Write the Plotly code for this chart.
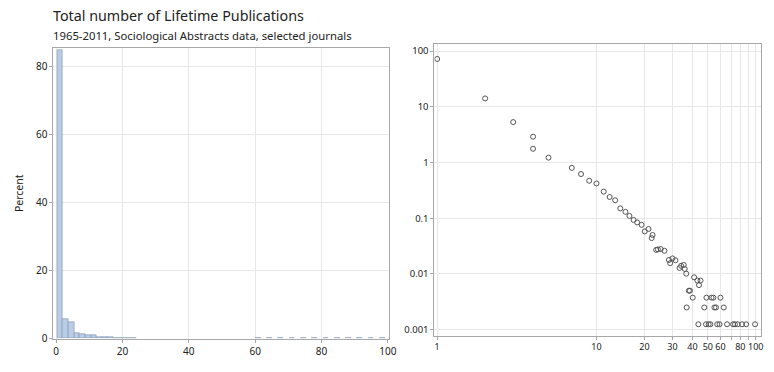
import plotly.graph_objects as go

# ---- Histogram: share of authors by lifetime publication count ----
hist_mid = [1.15, 2.85, 4.55, 6.25, 7.95, 9.65, 11.35, 13.05, 14.75, 16.45,
            18.15, 19.85, 21.55, 23.25,
            60.9, 64.3, 67.7, 71.1, 74.5, 77.9, 81.3, 84.7, 88.1, 91.5, 94.9, 98.3]
hist_pct = [85.0, 5.6, 4.8, 1.5, 1.4, 1.0, 1.1, 0.4, 0.35, 0.3,
            0.25, 0.2, 0.2, 0.15,
            0.03, 0.03, 0.03, 0.03, 0.03, 0.03, 0.03, 0.03, 0.03, 0.03, 0.03, 0.03]
hist_width = 1.7

# ---- Log-log frequency plot: publications vs percent of authors ----
pubs = [1, 2, 3, 4, 4, 5, 7, 8, 9, 10,
        11.1, 12.1, 13.1, 14.1, 15.2, 16.1, 17.1, 18.0, 19.2, 20.1,
        21.2, 22.5, 22.2, 23.7, 24.3, 25.3, 26.7, 28.5, 29.0, 30.0,
        31.3, 33.2, 34.0, 35.3, 35.8, 36.6, 41.0, 43.0, 45.0, 44.0,
        38.0, 38.6, 40.2, 36.8, 49.0, 52.7, 54.2, 60.0, 47.5, 55.0,
        56.3, 63.0, 43.6, 48.7, 50.6, 51.9, 57.3, 59.2, 66.0, 72.0,
        74.0, 77.0, 82.0, 87.0, 99.0]
pct = [72.0, 14.1, 5.3, 2.9, 1.76, 1.22, 0.80, 0.62, 0.47, 0.42,
       0.30, 0.24, 0.21, 0.15, 0.13, 0.11, 0.093, 0.084, 0.076, 0.058,
       0.064, 0.050, 0.044, 0.027, 0.0275, 0.028, 0.026, 0.0178, 0.0156, 0.019,
       0.0176, 0.0128, 0.014, 0.0145, 0.0123, 0.0101, 0.0087, 0.0076, 0.0076, 0.0063,
       0.005, 0.005, 0.00375, 0.0025, 0.00375, 0.00375, 0.00375, 0.00375, 0.0025, 0.0025,
       0.0025, 0.0025, 0.00125, 0.00125, 0.00125, 0.00125, 0.00125, 0.00125, 0.00125, 0.00125,
       0.00125, 0.00125, 0.00125, 0.00125, 0.00125]

hist_ticks = [0, 20, 40, 60, 80, 100]
pct_ticks = [0, 20, 40, 60, 80]
log_x_ticks = [1, 10, 20, 30, 40, 50, 60, 70, 80, 90, 100]
log_x_text = ["1", "10", "20", "30", "40", "50", "60", "", "80", "", "100"]
log_y_ticks = [100, 10, 1, 0.1, 0.01, 0.001]
log_y_text = ["100", "10", "1", "0.1", "0.01", "0.001"]

title = "Total number of Lifetime Publications"
subtitle = "1965-2011, Sociological Abstracts data, selected journals"

W, H = 774, 372
FONT = "Noto Sans"
GRID = "#e8e8e8"
FRAME = "#a8a8a8"
TXT = "#222222"

fig = go.Figure()

fig.add_trace(go.Bar(
    x=hist_mid, y=hist_pct, width=hist_width,
    marker=dict(color="#b9cde6", line=dict(color="#8094ae", width=0.6)),
    xaxis="x", yaxis="y", showlegend=False,
))

fig.add_trace(go.Scatter(
    x=pubs, y=pct, mode="markers",
    marker=dict(symbol="circle-open", size=5, color="#555555",
                line=dict(width=1, color="#555555")),
    xaxis="x2", yaxis="y2", showlegend=False,
))


def axis_style(size):
    return dict(
        showline=True, linecolor=FRAME, linewidth=1, mirror=True,
        showgrid=True, gridcolor=GRID, gridwidth=1, zeroline=False,
        ticks="outside", ticklen=3, tickcolor=FRAME, tickangle=0,
        tickfont=dict(family=FONT, size=size, color=TXT),
    )


fig.update_layout(
    width=W, height=H,
    margin=dict(l=0, r=0, t=0, b=0),
    paper_bgcolor="white", plot_bgcolor="white",
    bargap=0,
    xaxis=dict(domain=[54 / W, 393 / W], range=[-0.8, 100.3],
               tickvals=hist_ticks, anchor="y", **axis_style(10)),
    yaxis=dict(domain=[1 - 345 / H, 1 - 49 / H], range=[0, 85.5],
               tickvals=pct_ticks, anchor="x", **axis_style(10)),
    xaxis2=dict(domain=[439 / W, 769 / W], type="log", range=[-0.017, 2.033],
                tickvals=log_x_ticks, ticktext=log_x_text, anchor="y2",
                **axis_style(9)),
    yaxis2=dict(domain=[1 - 342 / H, 1 - 45 / H], type="log", range=[-3.106, 2.123],
                tickvals=log_y_ticks, ticktext=log_y_text, anchor="x2",
                **axis_style(9.5)),
    annotations=[
        dict(text=title, x=52 / W, y=1 - 4 / H, xref="paper", yref="paper",
             xanchor="left", yanchor="top", showarrow=False,
             font=dict(family=FONT, size=14.3, color=TXT)),
        dict(text=subtitle, x=52 / W, y=1 - 26.5 / H, xref="paper", yref="paper",
             xanchor="left", yanchor="top", showarrow=False,
             font=dict(family=FONT, size=11.3, color=TXT)),
        dict(text="Percent", x=19 / W, y=1 - 197 / H, xref="paper", yref="paper",
             xanchor="center", yanchor="middle", textangle=-90, showarrow=False,
             font=dict(family=FONT, size=10.5, color=TXT)),
    ],
)

fig.write_html("out.html")
